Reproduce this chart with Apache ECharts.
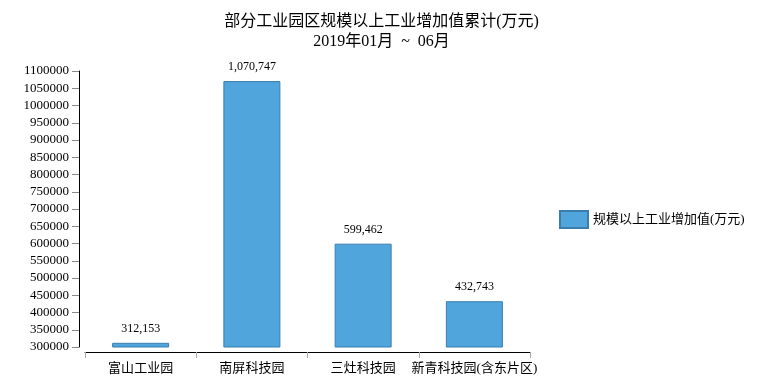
<!DOCTYPE html>
<html><head><meta charset="utf-8">
<script src="https://cdn.jsdelivr.net/npm/echarts@6/dist/echarts.min.js"></script>
<style>html,body{margin:0;padding:0;background:#fff}#c{width:763px;height:382px}</style>
</head><body><div id="c"></div>
<script>
const categories = ['富山工业园', '南屏科技园', '三灶科技园', '新青科技园(含东片区)'];
const values = [312153, 1070747, 599462, 432743];
const seriesName = '规模以上工业增加值(万元)';
const titleText = '部分工业园区规模以上工业增加值累计(万元)';
const subText = '2019年01月  ~  06月';
const yMin = 300000, yMax = 1100000, yStep = 50000;

const FONT = '"Liberation Serif","Noto Sans CJK SC",serif';
const chart = echarts.init(document.getElementById('c'), null, {renderer: 'canvas'});
chart.setOption({
  animation: false,
  title: {
    text: titleText + '\n' + subText,
    left: 'center', top: 7,
    textStyle: {fontFamily: FONT, fontSize: 16, fontWeight: 'normal', color: '#000', lineHeight: 20}
  },
  legend: {
    left: 554, top: 205, orient: 'vertical',
    itemWidth: 28, itemHeight: 17, itemGap: 6,
    textStyle: {fontFamily: FONT, fontSize: 13, color: '#000'},
    data: [{name: seriesName, icon: 'rect'}]
  },
  grid: {left: 85, right: 233, top: 71, bottom: 35, containLabel: false},
  xAxis: {
    type: 'category', data: categories, offset: 5,
    axisLine: {lineStyle: {color: '#000', width: 1}},
    axisTick: {show: true, alignWithLabel: false, length: 6, lineStyle: {color: '#aaa'}},
    axisLabel: {fontFamily: FONT, fontSize: 13, color: '#000', margin: 10, interval: 0}
  },
  yAxis: {
    type: 'value', min: yMin, max: yMax, interval: yStep, offset: 6,
    axisLine: {show: true, lineStyle: {color: '#000'}},
    axisTick: {show: true, length: 7, lineStyle: {color: '#888'}},
    axisLabel: {fontFamily: FONT, fontSize: 13, color: '#000', margin: 10, formatter: v => String(v)},
    splitLine: {show: false}
  },
  series: [{
    name: seriesName, type: 'bar', data: values, barWidth: 57,
    itemStyle: {color: '#4FA5DC', borderColor: '#3B7EAE', borderWidth: 1},
    label: {show: true, position: 'top', distance: 8, fontFamily: FONT, fontSize: 12, color: '#000',
      formatter: p => p.value.toLocaleString('en-US')}
  }]
});
</script></body></html>
